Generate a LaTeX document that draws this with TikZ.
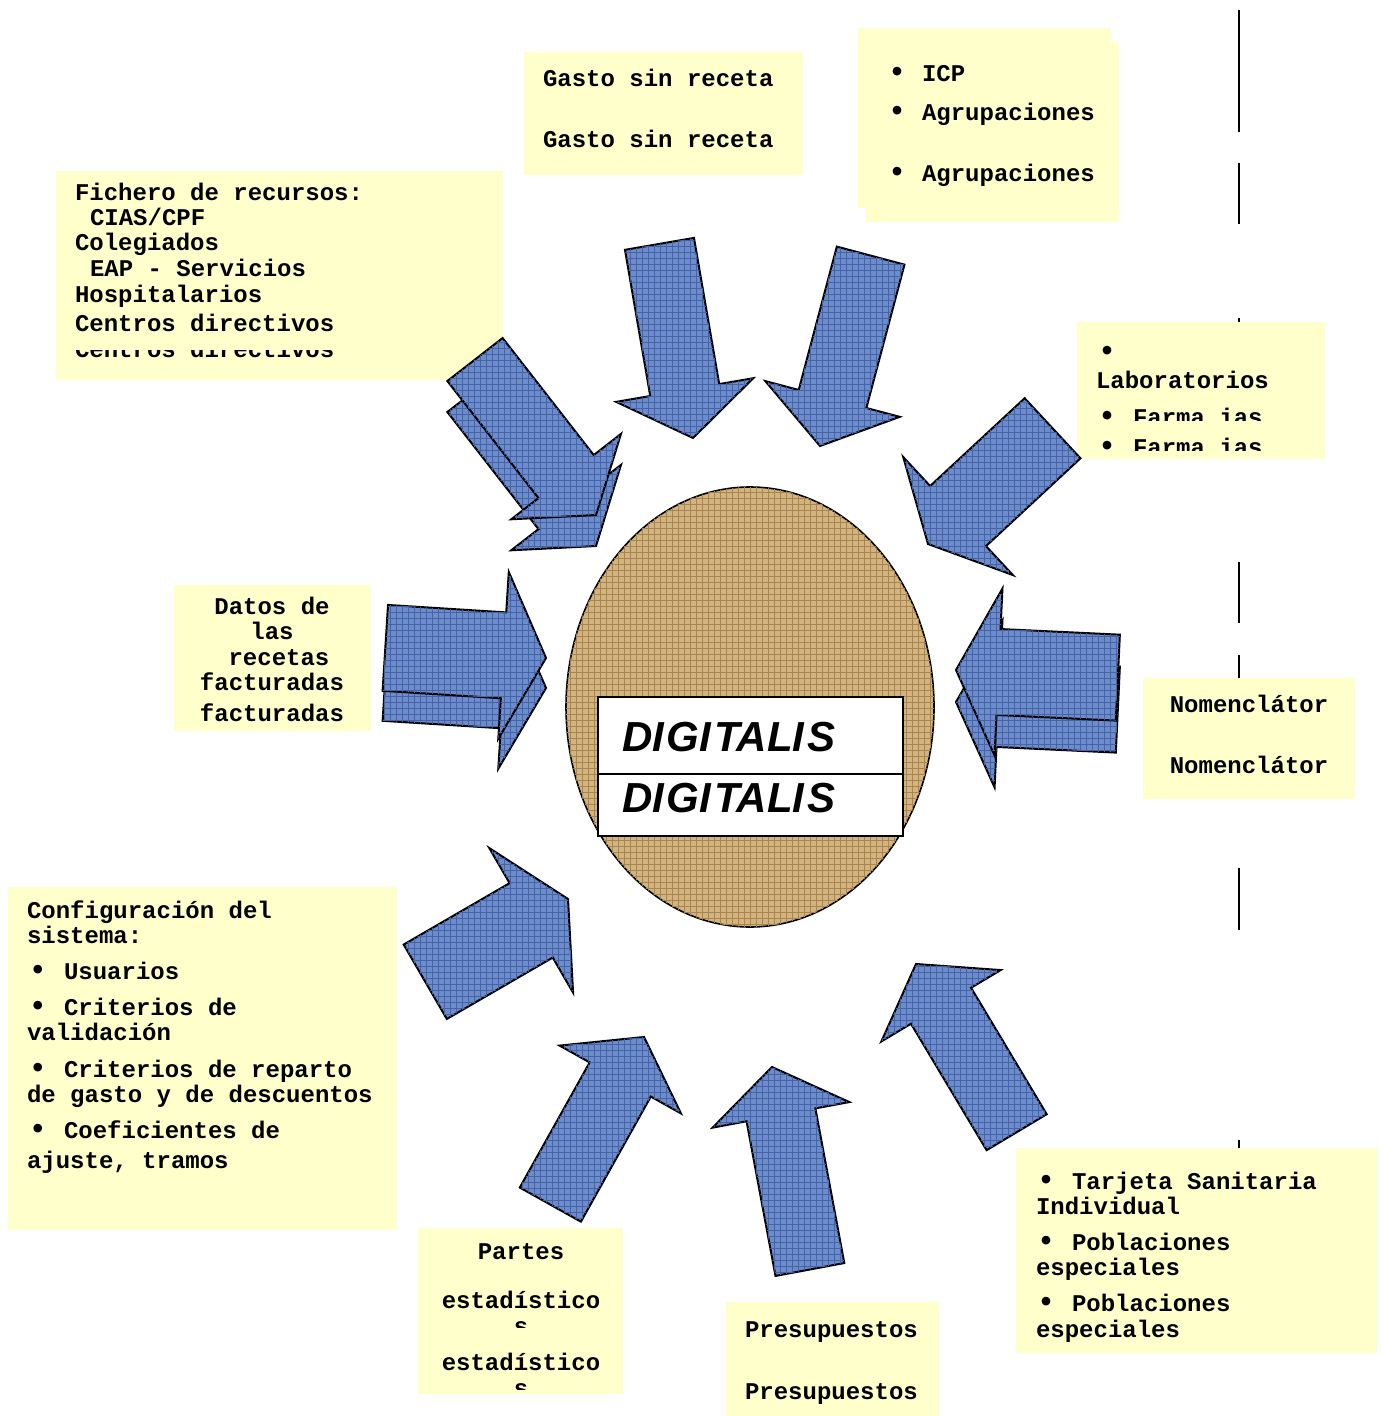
\documentclass[tikz,border=0pt]{standalone}
\usepackage{fontspec}
\setmainfont{Liberation Mono}
\newfontfamily\bulletfont{Liberation Sans}
\newfontfamily\titlefont{Liberation Sans}
\usetikzlibrary{shapes.arrows,shapes.geometric,patterns}

\definecolor{notecol}{RGB}{255,255,204}
\definecolor{denim}{RGB}{108,140,204}
\definecolor{denimdark}{RGB}{70,100,165}
\definecolor{burlap}{RGB}{210,180,128}
\definecolor{burlapdark}{RGB}{170,132,78}

\begin{document}
\begin{tikzpicture}[x=0.5pt,y=-0.5pt]
\tikzstyle{every node}+=[inner sep=0pt, outer sep=0pt]
\tikzstyle{note}=[fill=notecol]
\tikzstyle{txt}=[anchor=base west, font=\bfseries\fontsize{12}{14}\selectfont]
\tikzstyle{ctxt}=[anchor=base, font=\bfseries\fontsize{12}{14}\selectfont]
\tikzstyle{bul}=[anchor=base, font=\bulletfont\bfseries\fontsize{15}{16}\selectfont]
\tikzstyle{arrsmall}=[single arrow, draw=black, line width=1pt, fill=denim, postaction={pattern=grid, pattern color=denimdark}, anchor=tip, inner xsep=0pt, inner ysep=17pt, minimum height=98.5pt, minimum width=68.5pt, single arrow head extend=17.25pt, single arrow tip angle=110]
\tikzstyle{arrbig}=[single arrow, draw=black, line width=1pt, fill=denim, postaction={pattern=grid, pattern color=denimdark}, anchor=tip, inner xsep=0pt, inner ysep=21pt, minimum height=81pt, minimum width=82.5pt, single arrow head extend=20.25pt, single arrow tip angle=126]
\tikzstyle{digit}=[anchor=base west, font=\titlefont\bfseries\itshape\fontsize{21}{24}\selectfont]
\useasboundingbox (0,0) rectangle (1383,1416);
\fill [white] (0,0) rectangle (1383,1416);
\draw [line width=1pt] (1239,10) -- (1239,132);
\draw [line width=1pt] (1239,163) -- (1239,224);
\draw [line width=1pt] (1239,318) -- (1239,330);
\draw [line width=1pt] (1239,562) -- (1239,623);
\draw [line width=1pt] (1239,655) -- (1239,690);
\draw [line width=1pt] (1239,868) -- (1239,930);
\draw [line width=1pt] (1239,1140) -- (1239,1150);
\fill [note] (56,171) rectangle (503,380);
\fill [note] (524,52) rectangle (803,175);
\fill [note] (858,28) rectangle (1111,208);
\fill [note] (866,42) rectangle (1119,222);
\fill [note] (1077,322) rectangle (1325,459);
\fill [note] (174,585) rectangle (371,731);
\fill [note] (1143,678) rectangle (1355,799);
\fill [note] (8,887) rectangle (397,1230);
\fill [note] (418,1228) rectangle (623,1394);
\fill [note] (726,1302) rectangle (939,1416);
\fill [note] (1016,1148) rectangle (1377,1353);
\node [txt] (fich1) at (75,201) {Fichero de recursos:};
\node [txt] (fich2) at (90,226) {CIAS/CPF};
\node [txt] (fich3) at (75,251) {Colegiados};
\node [txt] (fich4) at (90,277) {EAP - Servicios};
\node [txt] (fich5) at (75,303) {Hospitalarios};
\node [txt] (fich6) at (75,332) {Centros directivos};
\begin{scope}
\clip (56,351) rectangle (503,380);
\node [txt] (fich7) at (75,358) {Centros directivos};
\end{scope}
\node [txt] (gasto1) at (543,87) {Gasto sin receta};
\node [txt] (gasto2) at (543,148) {Gasto sin receta};
\node [bul] (icpb1) at (897,82) {•};
\node [txt] (icp1) at (922,82) {ICP};
\node [bul] (icpb2) at (897,121) {•};
\node [txt] (icp2) at (922,121) {Agrupaciones};
\node [bul] (icpb3) at (897,182) {•};
\node [txt] (icp3) at (922,182) {Agrupaciones};
\node [bul] (labb1) at (1107,361) {•};
\node [txt] (lab1) at (1096,389) {Laboratorios};
\begin{scope}
\clip (1077,322) rectangle (1325,421);
\node [bul] (labb2) at (1107,426) {•};
\node [txt] (lab2) at (1133,426) {Farma ias};
\end{scope}
\begin{scope}
\clip (1077,322) rectangle (1325,451);
\node [bul] (labb3) at (1107,456) {•};
\node [txt] (lab3) at (1133,456) {Farma ias};
\end{scope}
\node [ctxt] (datos1) at (272,614) {Datos de};
\node [ctxt] (datos2) at (272,639) {las};
\node [ctxt] (datos3) at (279,665) {recetas};
\node [ctxt] (datos4) at (272,690) {facturadas};
\node [ctxt] (datos5) at (272,721) {facturadas};
\node [ctxt] (nomen1) at (1249,712) {Nomenclátor};
\node [ctxt] (nomen2) at (1249,773) {Nomenclátor};
\node [txt] (conf1) at (27,918) {Configuración del};
\node [txt] (conf2) at (27,943) {sistema:};
\node [bul] (confb1) at (38,979) {•};
\node [txt] (conf3) at (64,979) {Usuarios};
\node [bul] (confb2) at (38,1015) {•};
\node [txt] (conf4) at (64,1015) {Criterios de};
\node [txt] (conf5) at (27,1040) {validación};
\node [bul] (confb3) at (38,1077) {•};
\node [txt] (conf6) at (64,1077) {Criterios de reparto};
\node [txt] (conf7) at (27,1102) {de gasto y de descuentos};
\node [bul] (confb4) at (38,1138) {•};
\node [txt] (conf8) at (64,1138) {Coeficientes de};
\node [txt] (conf9) at (27,1168) {ajuste, tramos};
\node [ctxt] (partes1) at (521,1259) {Partes};
\node [ctxt] (partes2) at (521,1308) {estadístico};
\node [ctxt] (partes4) at (521,1370) {estadístico};
\begin{scope}
\clip (418,1228) rectangle (623,1327);
\node [ctxt] (partes3) at (521,1334) {s};
\end{scope}
\begin{scope}
\clip (418,1228) rectangle (623,1389);
\node [ctxt] (partes5) at (521,1396) {s};
\end{scope}
\node [txt] (presu1) at (745,1337) {Presupuestos};
\node [txt] (presu2) at (745,1399) {Presupuestos};
\node [bul] (tarjb1) at (1046,1189) {•};
\node [txt] (tarj1) at (1072,1189) {Tarjeta Sanitaria};
\node [txt] (tarj2) at (1036,1214) {Individual};
\node [bul] (tarjb2) at (1046,1250) {•};
\node [txt] (tarj3) at (1072,1250) {Poblaciones};
\node [txt] (tarj4) at (1036,1275) {especiales};
\node [bul] (tarjb3) at (1046,1311) {•};
\node [txt] (tarj5) at (1072,1311) {Poblaciones};
\node [txt] (tarj6) at (1036,1337) {especiales};
\node [ellipse, draw=black, line width=0.8pt, fill=burlap, postaction={pattern=grid, pattern color=burlapdark}, minimum width=184pt, minimum height=220pt] (core) at (750,707) {};
\node [draw=black, line width=0.8pt, fill=white, anchor=north west, minimum width=152.5pt, minimum height=38.5pt] (digA) at (598,697) {};
\node [draw=black, line width=0.8pt, fill=white, anchor=north west, minimum width=152.5pt, minimum height=31pt] (digB) at (598,774) {};
\node [digit] (digtxtA) at (622,751) {DI\kern1.5pt GI\kern1.5pt TALI\kern1.5pt S};
\node [digit] (digtxtB) at (622,812) {DI\kern1.5pt GI\kern1.5pt TALI\kern1.5pt S};
\node [arrsmall, rotate=-52.1] (arrFich2) at (596,546) {};
\node [arrsmall, rotate=-52.1] (arrFich1) at (596,515) {};
\node [arrsmall, rotate=-80.2] (arrGasto) at (693,438) {};
\node [arrsmall, rotate=-104.9] (arrIcp) at (820,446) {};
\node [arrbig, rotate=-137.1, minimum height=85pt, minimum width=79.5pt, inner ysep=20pt, single arrow head extend=19.75pt] (arrLab) at (928,544) {};
\node [arrbig, rotate=-3.6, minimum height=80.5pt] (arrDatos2) at (546,688) {};
\node [arrbig, rotate=-3.6, minimum height=80.5pt] (arrDatos1) at (546,658) {};
\node [arrbig, rotate=177.3] (arrNomen2) at (956,702) {};
\node [arrbig, rotate=177.3] (arrNomen1) at (956,670) {};
\node [arrbig, rotate=30.1, minimum height=82.5pt] (arrConf) at (568,899) {};
\node [arrsmall, rotate=60.8, minimum height=96pt] (arrPartes) at (644,1037) {};
\node [arrsmall, rotate=100.6, minimum height=103pt] (arrPresu) at (772,1067) {};
\node [arrsmall, rotate=120.9, minimum height=98pt] (arrTarj) at (916,964) {};
\end{tikzpicture}
\end{document}
